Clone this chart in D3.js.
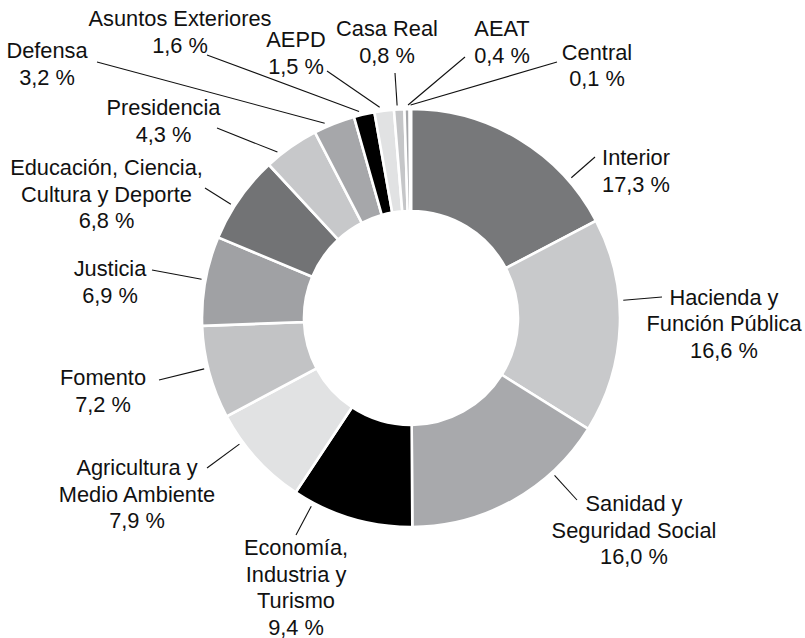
<!DOCTYPE html>
<html>
<head>
<meta charset="utf-8">
<script src="https://cdn.jsdelivr.net/npm/d3@7"></script>
<style>
  body { margin: 0; background: #fff; }
  text { font-family: "Liberation Sans", Arial, Helvetica, sans-serif; font-size: 21.8px; fill: #111; }
</style>
</head>
<body>
<div id="chart"></div>
<script>
// ministerios, clockwise from 12 o'clock
const categories = [
  ["Interior"],
  ["Hacienda y", "Función Pública"],
  ["Sanidad y", "Seguridad Social"],
  ["Economía,", "Industria y", "Turismo"],
  ["Agricultura y", "Medio Ambiente"],
  ["Fomento"],
  ["Justicia"],
  ["Educación, Ciencia,", "Cultura y Deporte"],
  ["Presidencia"],
  ["Defensa"],
  ["Asuntos Exteriores"],
  ["AEPD"],
  ["Casa Real"],
  ["AEAT"],
  ["Central"]
];
const values = [17.3, 16.6, 16.0, 9.4, 7.9, 7.2, 6.9, 6.8, 4.3, 3.2, 1.6, 1.5, 0.8, 0.4, 0.1];
const colors = ["#77787a", "#c8c9cb", "#a8a9ac", "#000000", "#e1e2e3", "#c2c3c5", "#a0a1a4",
                "#727375", "#c7c8ca", "#a6a7aa", "#000000", "#e1e2e3", "#c5c6c8", "#a6a7aa", "#d3d4d6"];

// label placement: text centre x, first baseline y, outer end of leader line
const labelPos = [
  [636, 165, 595, 157],
  [724, 304.5, 662, 297],
  [634, 511, 577, 500],
  [296, 555, 296, 535],
  [137, 475, 207, 468],
  [103, 385, 159, 380],
  [110, 276, 152, 270],
  [106.5, 175, 205, 188],
  [163.5, 115, 217, 128],
  [47, 58, 97, 62],
  [180, 26, 207, 55],
  [296, 47, 327, 71],
  [387, 36, 395, 73],
  [502, 36, 465, 57],
  [597, 59.5, 557, 62]
];

const width = 805, height = 638;
const cx = 411, cy = 318;
const outerR = 209, innerR = 107;
const lineH = 26.7;

const svg = d3.select("#chart").append("svg")
  .attr("width", width).attr("height", height);

const g = svg.append("g").attr("transform", "translate(" + cx + "," + cy + ")");

const data = values.map((v, i) => ({ name: categories[i], value: v, color: colors[i], pos: labelPos[i] }));

const pie = d3.pie().sort(null).value(d => d.value);
const arc = d3.arc().innerRadius(innerR).outerRadius(outerR);
const arcs = pie(data);

g.selectAll("path.slice").data(arcs).enter().append("path")
  .attr("class", "slice")
  .attr("d", arc)
  .attr("fill", d => d.data.color)
  .attr("stroke", "#fff")
  .attr("stroke-width", 2.6)
  .attr("stroke-linejoin", "miter");

const fmt = v => v.toFixed(1).replace(".", ",") + " %";

// leader lines: from label to the nearest point on the slice edge
arcs.forEach(d => {
  const p = d.data.pos;
  const lx = p[2] - cx, ly = p[3] - cy;
  let ang = Math.atan2(lx, -ly);
  if (ang < 0) ang += 2 * Math.PI;
  const span = d.endAngle - d.startAngle;
  const pad = Math.min(0.3 * span, 4 * Math.PI / 180);
  // handle wrap-around near 12 o'clock
  if (ang < d.startAngle - Math.PI) ang += 2 * Math.PI;
  if (ang > d.endAngle + Math.PI) ang -= 2 * Math.PI;
  const a = Math.max(d.startAngle + pad, Math.min(d.endAngle - pad, ang));
  const r = outerR + 4;
  g.append("line")
    .attr("x1", lx).attr("y1", ly)
    .attr("x2", r * Math.sin(a)).attr("y2", -r * Math.cos(a))
    .attr("stroke", "#111").attr("stroke-width", 1.1);
});

// labels
const labels = svg.selectAll("text.lbl").data(data).enter().append("text")
  .attr("class", "lbl")
  .attr("text-anchor", "middle")
  .attr("x", d => d.pos[0])
  .attr("y", d => d.pos[1]);

labels.each(function(d) {
  const t = d3.select(this);
  const lines = d.name.concat([fmt(d.value)]);
  lines.forEach((s, i) => {
    t.append("tspan").attr("x", d.pos[0]).attr("y", d.pos[1] + i * lineH).text(s);
  });
});
</script>
</body>
</html>
